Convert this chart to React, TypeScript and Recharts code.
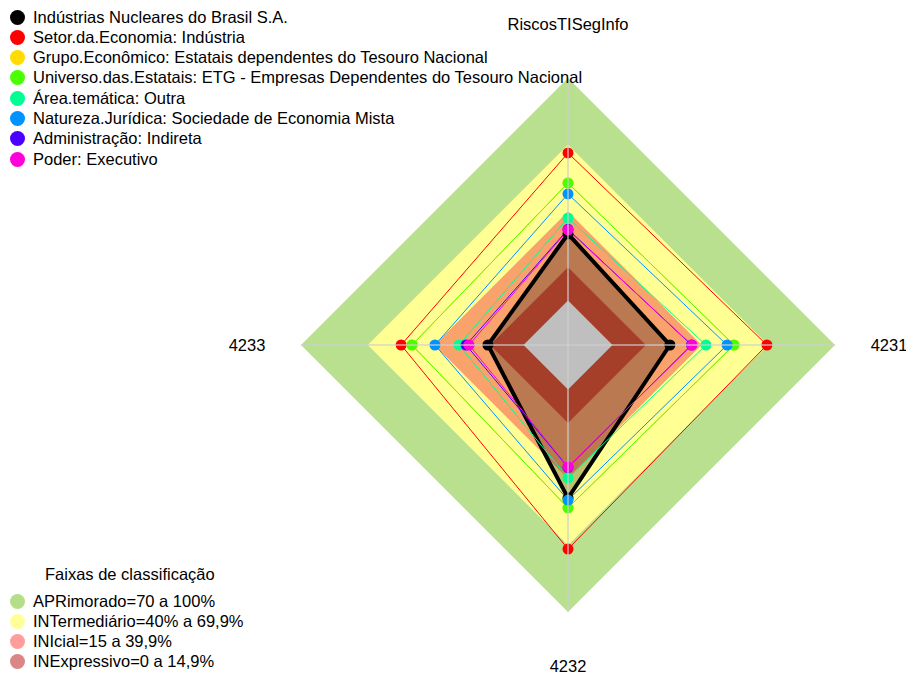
import React from 'react';
import { RadarChart, Radar, PolarAngleAxis, PolarRadiusAxis } from 'recharts';

const CX = 568;
const CY = 345;
const R = 267;
const FONT = '"Liberation Sans", Arial, sans-serif';

// eixos (sentido horário a partir do topo)
const AXES = ['RiscosTISegInfo', '4231', '4232', '4233'];

// valores, em %
const INB = [29.9, 25.8, 48.8, 16];
const SETOR = [66.3, 69.4, 71.7, 55];
const GRUPO = [52.8, 54.6, 53.2, 50.1];
const UNIVERSO = [52.8, 54.6, 53.2, 50.1];
const AREA = [37.1, 42, 39.8, 29];
const NATUREZA = [47.9, 51.5, 49.7, 39.8];
const ADMIN = [32, 35.5, 35, 25.8];
const PODER = [31.7, 35.7, 34.8, 24.5];

// faixas de classificação (limite superior de cada faixa)
const APR = [100, 100, 100, 100];
const INT = [70, 70, 70, 70];
const INI = [40, 40, 40, 40];
const INE = [15, 15, 15, 15];
const ZERO = [0, 0, 0, 0];

const SERIES = [
  { key: 'inb', name: 'Indústrias Nucleares do Brasil S.A.', values: INB, color: '#000000' },
  { key: 'setor', name: 'Setor.da.Economia: Indústria', values: SETOR, color: '#FF0000' },
  { key: 'grupo', name: 'Grupo.Econômico: Estatais dependentes do Tesouro Nacional', values: GRUPO, color: '#FFDB00' },
  { key: 'universo', name: 'Universo.das.Estatais: ETG - Empresas Dependentes do Tesouro Nacional', values: UNIVERSO, color: '#49FF00' },
  { key: 'area', name: 'Área.temática: Outra', values: AREA, color: '#00FF92' },
  { key: 'natureza', name: 'Natureza.Jurídica: Sociedade de Economia Mista', values: NATUREZA, color: '#0092FF' },
  { key: 'admin', name: 'Administração: Indireta', values: ADMIN, color: '#4900FF' },
  { key: 'poder', name: 'Poder: Executivo', values: PODER, color: '#FF00DB' },
];

const BANDS = [
  { key: 'apr', values: APR, fill: '#B9E08E', label: 'APRimorado=70 a 100%', dot: '#B5DE8A' },
  { key: 'int', values: INT, fill: '#FFFF93', label: 'INTermediário=40% a 69,9%', dot: '#FFFF99' },
  { key: 'ini', values: INI, fill: '#F9A26B', label: 'INIcial=15 a 39,9%', dot: '#FF9C9C' },
  { key: 'ine', values: INE, fill: '#DC5539', label: 'INExpressivo=0 a 14,9%', dot: '#DB8686' },
];

const data = AXES.map((axis, i) => {
  const row: Record<string, string | number> = { axis, zero: ZERO[i] };
  BANDS.forEach((b) => (row[b.key] = b.values[i]));
  SERIES.forEach((s) => (row[s.key] = s.values[i]));
  return row;
});

function AxisTick(props: any) {
  const { payload } = props;
  const rad = (-payload.coordinate * Math.PI) / 180;
  const x = CX + Math.cos(rad) * (R + 54);
  const y = CY + Math.sin(rad) * (R + 54);
  return (
    <text x={x} y={y} textAnchor="middle" dominantBaseline="central" fontSize={16.5} fontFamily={FONT} fill="#000">
      {payload.value}
    </text>
  );
}

function LegendRow({ color, label, top }: { color: string; label: string; top: number }) {
  return (
    <div style={{ position: 'absolute', left: 10, top: top - 10, height: 20, display: 'flex', alignItems: 'center' }}>
      <span style={{ width: 15, height: 15, borderRadius: '50%', background: color, display: 'inline-block' }} />
      <span style={{ marginLeft: 8, fontSize: 16.5, whiteSpace: 'nowrap' }}>{label}</span>
    </div>
  );
}

export default function App() {
  return (
    <div style={{ position: 'absolute', left: 0, top: 0, width: 906, height: 680, background: '#fff', fontFamily: FONT }}>
      <RadarChart width={906} height={680} data={data} cx={CX} cy={CY} outerRadius={R} margin={{ top: 0, right: 0, bottom: 0, left: 0 }}>
        <PolarRadiusAxis domain={[-20, 100]} tick={false} axisLine={false} />
        <PolarAngleAxis dataKey="axis" tick={<AxisTick />} axisLine={false} tickLine={false} />
        {BANDS.map((b) => (
          <Radar key={b.key} dataKey={b.key} stroke="none" fill={b.fill} fillOpacity={1} isAnimationActive={false} />
        ))}
        <Radar dataKey="zero" stroke="none" fill="#fff" fillOpacity={1} isAnimationActive={false} />
        {SERIES.map((s, i) => (
          <Radar
            key={s.key}
            dataKey={s.key}
            stroke={s.color}
            strokeWidth={i === 0 ? 4 : 1}
            fill={i === 0 ? '#000' : 'none'}
            fillOpacity={i === 0 ? 0.25 : 0}
            dot={{ r: 5.5, fill: s.color, stroke: 'none', fillOpacity: 1 }}
            isAnimationActive={false}
          />
        ))}
      </RadarChart>
      {/* eixos radiais claros por cima das faixas */}
      <svg width={906} height={680} style={{ position: 'absolute', left: 0, top: 0, pointerEvents: 'none' }}>
        <line x1={CX} y1={CY - R} x2={CX} y2={CY + R} stroke="#D0D0D0" strokeOpacity={0.8} strokeWidth={1.5} />
        <line x1={CX - R} y1={CY} x2={CX + R} y2={CY} stroke="#D0D0D0" strokeOpacity={0.8} strokeWidth={1.5} />
      </svg>
      {SERIES.map((s, i) => (
        <LegendRow key={s.key} color={s.color} label={s.name} top={17 + i * 20.3} />
      ))}
      <div style={{ position: 'absolute', left: 45, top: 565, fontSize: 16.5 }}>Faixas de classificação</div>
      {BANDS.map((b, i) => (
        <LegendRow key={b.key} color={b.dot} label={b.label} top={601 + i * 20.3} />
      ))}
    </div>
  );
}
